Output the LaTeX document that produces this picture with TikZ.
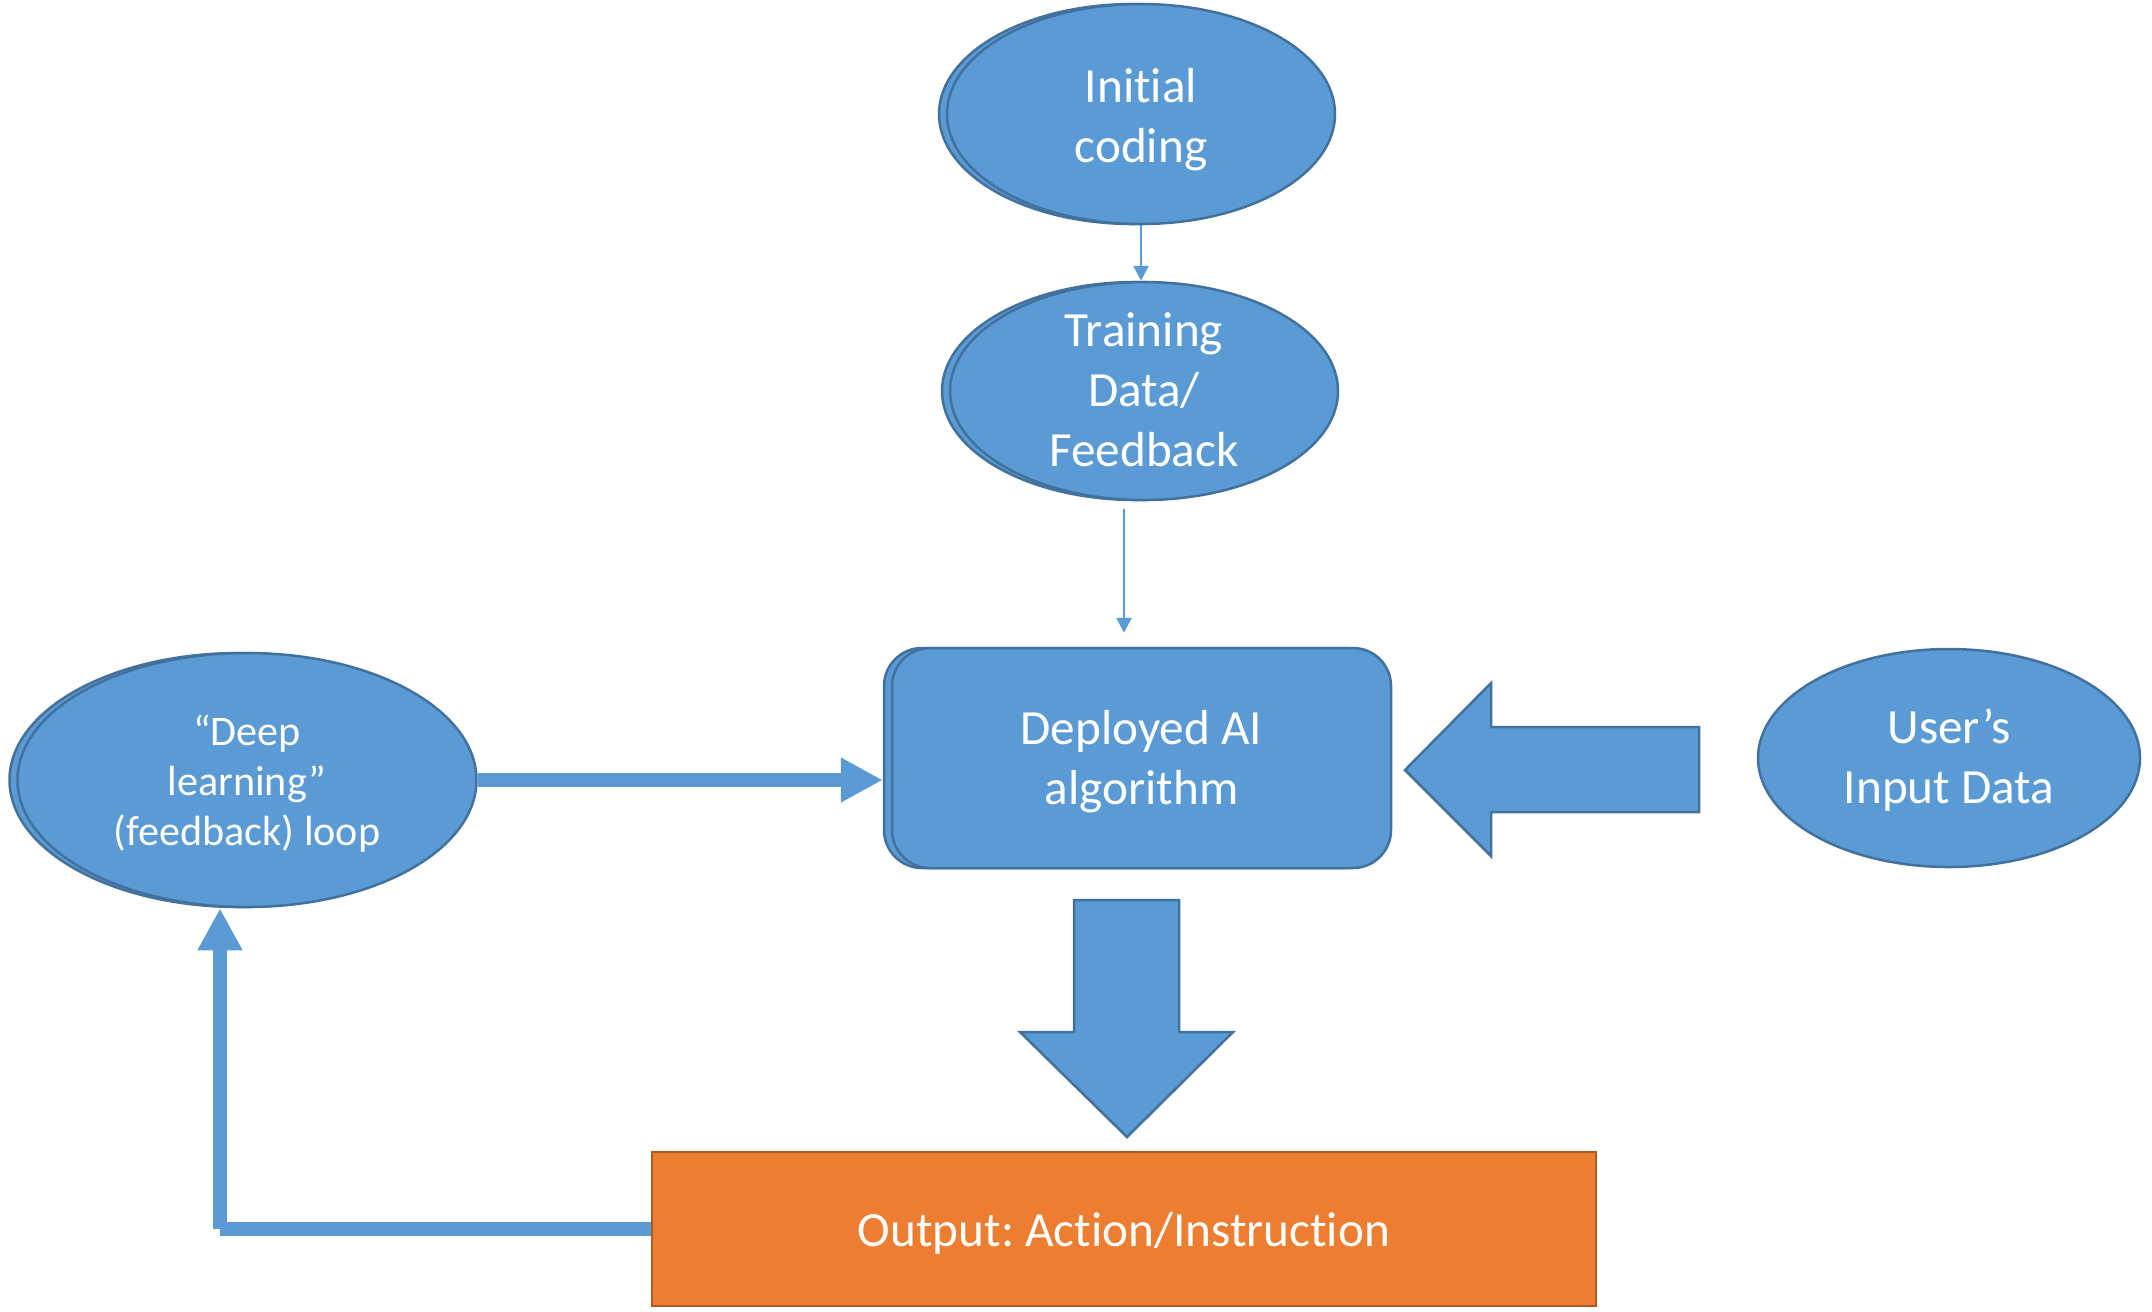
\documentclass[tikz,border=0pt]{standalone}
\usepackage{fontspec}
\setmainfont{Carlito}[Ligatures=NoCommon]
\usetikzlibrary{arrows.meta,shadows,shapes.geometric,calc}
\definecolor{bluef}{HTML}{5B9BD5}
\definecolor{bord}{HTML}{41719C}
\definecolor{orangef}{HTML}{ED7D31}
\definecolor{orangeb}{HTML}{AE5A21}
\frenchspacing

\begin{document}
\begin{tikzpicture}[x=0.1mm,y=-0.1mm,
  % text height/depth fix where the last baseline sits below the node centre
  lastbase/.style={text height=#1, text depth=0pt},
  bigtext/.style={text=white, align=center, font=\fontsize{14pt}{17.1pt}\selectfont},
  smalltext/.style={font=\fontsize{12pt}{14.3pt}\selectfont},
  blob/.style={ellipse, fill=bluef, draw=bord, line width=0.25mm, inner sep=0pt, bigtext},
  stacked/.style={general shadow={shadow xshift=-0.8mm, shadow yshift=0mm, fill=bluef, draw=bord, line width=0.25mm}},
  algobox/.style={rectangle, rounded corners=3.8mm, fill=bluef, draw=bord, line width=0.25mm, inner sep=0pt, bigtext},
  outbox/.style={rectangle, fill=orangef, draw=orangeb, line width=0.25mm, inner sep=0pt, bigtext},
  thinarrow/.style={draw=bluef, line width=0.25mm, -{Triangle[length=1.5mm,width=1.5mm]}},
  fatline/.style={draw=bluef, line width=1.4mm},
  fatarrow/.style={fatline, -{Triangle[length=4.2mm,width=4.2mm]}},
  blockarrow/.style={fill=bluef, draw=bord, line width=0.25mm, line join=miter}
]
\useasboundingbox (0,0) rectangle (2152,1311);

% nodes
\node[blob, stacked, lastbase=27.8pt, minimum width=38.8mm, minimum height=22mm] (init) at (1141,114) {Initial\\coding};
\node[blob, stacked, lastbase=43pt, minimum width=38.8mm, minimum height=21.8mm] (train) at (1144,391) {Training\\Data/\\Feedback};
\node[blob, stacked, smalltext, lastbase=37.4pt, minimum width=45.9mm, minimum height=25.4mm] (deep) at (247,780) {“Deep\\learning”\\(feedback) loop};
\node[blob, lastbase=26pt, minimum width=38.2mm, minimum height=21.8mm] (user) at (1949,758) {User’s\\Input Data};
\node[algobox, stacked, lastbase=26.6pt, minimum width=49.9mm, minimum height=22mm] (algo) at (1141.5,758) {Deployed AI\\algorithm};
\node[outbox, lastbase=10pt, minimum width=94.4mm, minimum height=15.4mm] (out) at (1124,1229) {Output: Action/Instruction};

% thin connectors
\draw[thinarrow] (init.south) -- (init.south |- train.north);
\draw[thinarrow] ($(train.south)+(-20,8)$) -- ($(algo.north)+(-17.5,-14)$);

% feedback loop
\draw[fatarrow] (deep.east) -- ($(deep.east -| algo.west)+(-8,0)$);
\coordinate (fbcorner) at (220,1229);
\draw[fatline] (out.west) -- (fbcorner);
\draw[fatarrow] (fbcorner) -- (fbcorner |- deep.south);

% block arrows: user input into the algorithm, algorithm down to output
\draw[blockarrow] (1405,770) -- (1491,683) -- (1491,727) -- (1699,727) -- (1699,812)
  -- (1491,812) -- (1491,856) -- cycle;
\draw[blockarrow] (1074,900) -- (1179,900) -- (1179,1032) -- (1233,1032) -- (1127,1137)
  -- (1020,1032) -- (1074,1032) -- cycle;
\end{tikzpicture}
\end{document}
